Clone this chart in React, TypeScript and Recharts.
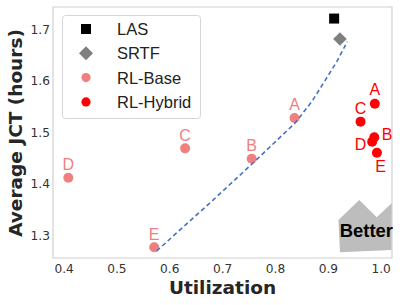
import React from 'react';
import { ScatterChart, Scatter, XAxis, YAxis, ReferenceArea, ReferenceDot, Legend, Label } from 'recharts';

// ---- data ----
const pointNames = ['A', 'B', 'C', 'D', 'E'];
const baseUtil = [0.836, 0.755, 0.629, 0.408, 0.5705];
const baseJct = [1.528, 1.449, 1.469, 1.412, 1.2775];
const hybridUtil = [0.988, 0.987, 0.961, 0.983, 0.992];
const hybridJct = [1.5555, 1.4906, 1.5208, 1.4817, 1.4605];
const lasUtil = [0.911];
const lasJct = [1.7206];
const srtfUtil = [0.922];
const srtfJct = [1.681];
const frontierUtil = [0.575, 0.68, 0.761, 0.837, 0.869, 0.8905, 0.916, 0.936];
const frontierJct = [1.27, 1.367, 1.444, 1.518, 1.56, 1.595, 1.637, 1.676];
const xTicks = [0.4, 0.5, 0.6, 0.7, 0.8, 0.9, 1.0];
const yTicks = [1.3, 1.4, 1.5, 1.6, 1.7];
const xDomain: [number, number] = [0.379, 1.0205];
const yDomain: [number, number] = [1.2565, 1.743];

const zip = (xs: number[], ys: number[], names?: string[]) =>
  xs.map((x, i) => ({ x, y: ys[i], name: names ? names[i] : '' }));

const baseData = zip(baseUtil, baseJct, pointNames);
const hybridData = zip(hybridUtil, hybridJct, pointNames);
const lasData = zip(lasUtil, lasJct);
const srtfData = zip(srtfUtil, srtfJct);
const frontierData = zip(frontierUtil, frontierJct);

// ---- styles ----
const BASE_COLOR = '#f08080';
const HYBRID_COLOR = '#ff0000';
const SRTF_COLOR = '#7f7f7f';
const LINE_COLOR = '#4472c4';
const LABEL_FONT = '"Liberation Sans", Arial, sans-serif';
const AXIS_FONT = '"DejaVu Sans", sans-serif';

const baseLabelOffset: Record<string, [number, number]> = {
  A: [0, -7.5], B: [0, -7.5], C: [0, -7.5], D: [0, -7.5], E: [0, -7.5],
};
const hybridLabelOffset: Record<string, [number, number]> = {
  A: [0, -9.2], B: [12.7, 2.8], C: [0, -7.8], D: [-11.6, 8.2], E: [3.7, 18.9],
};

const makeCircleShape = (color: string, offsets: Record<string, [number, number]>) => (props: any) => {
  const { cx, cy, payload } = props;
  const off = offsets[payload.name] || [0, -7.5];
  return (
    <g>
      <circle cx={cx} cy={cy} r={5} fill={color} />
      <text
        x={cx + off[0]}
        y={cy + off[1]}
        textAnchor="middle"
        fontFamily={LABEL_FONT}
        fontSize={16}
        fill={color}
      >
        {payload.name}
      </text>
    </g>
  );
};

const squareShape = (props: any) => {
  const { cx, cy } = props;
  return <rect x={cx - 5} y={cy - 5} width={10} height={10} fill="#000" />;
};

const diamondShape = (props: any) => {
  const { cx, cy } = props;
  const h = 6.8;
  return <polygon points={`${cx},${cy - h} ${cx + h},${cy} ${cx},${cy + h} ${cx - h},${cy}`} fill={SRTF_COLOR} />;
};

const nothingShape = () => <g />;

const betterShape = (props: any) => {
  const { cx, cy } = props;
  const pts = [
    [-21.9, -35.6], [-4.5, -18.3], [10.5, -32.3], [10.3, 14.4], [-41.2, 16.7], [-42.7, -15.6],
  ]
    .map(([dx, dy]) => `${cx + dx},${cy + dy}`)
    .join(' ');
  return (
    <g>
      <polygon points={pts} fill="#bdbdbd" />
      <text x={cx - 41.4} y={cy + 1.3} fontFamily={LABEL_FONT} fontWeight="bold" fontSize={18.4} fill="#000">
        Better
      </text>
    </g>
  );
};

const legendItems = [
  { label: 'LAS', kind: 'square', color: '#000' },
  { label: 'SRTF', kind: 'diamond', color: SRTF_COLOR },
  { label: 'RL-Base', kind: 'circle', color: BASE_COLOR },
  { label: 'RL-Hybrid', kind: 'circle', color: HYBRID_COLOR },
];

const renderLegend = () => (
  <svg width={140} height={105} style={{ display: 'block' }}>
    <rect x={0.5} y={0.5} width={138} height={103} rx={3} fill="#fff" fillOpacity={0.85} stroke="#d6d6d6" />
    {legendItems.map((it, i) => {
      const cy = 14 + i * 24.3;
      const cx = 24;
      let marker;
      if (it.kind === 'square') marker = <rect x={cx - 5} y={cy - 5} width={10} height={10} fill={it.color} />;
      else if (it.kind === 'diamond')
        marker = <polygon points={`${cx},${cy - 7} ${cx + 7},${cy} ${cx},${cy + 7} ${cx - 7},${cy}`} fill={it.color} />;
      else marker = <circle cx={cx} cy={cy} r={4.6} fill={it.color} />;
      return (
        <g key={it.label}>
          {marker}
          <text x={55} y={cy + 5.9} fontFamily={LABEL_FONT} fontSize={16.5} fill="#222">
            {it.label}
          </text>
        </g>
      );
    })}
  </svg>
);

const renderYTitle = () => (
  <text
    x={22}
    y={133}
    transform="rotate(-90, 22, 133)"
    textAnchor="middle"
    fontFamily={AXIS_FONT}
    fontWeight="bold"
    fontSize={18.5}
    fill="#262626"
  >
    Average JCT (hours)
  </text>
);

const renderXTitle = () => (
  <text x={222.5} y={294.3} textAnchor="middle" fontFamily={AXIS_FONT} fontWeight="bold" fontSize={18.5} fill="#262626">
    Utilization
  </text>
);

const tickStyle = { fontFamily: AXIS_FONT, fontSize: 12.2, fill: '#333' };

export default function App() {
  return (
    <div style={{ position: 'absolute', left: 0, top: 0, width: 407, height: 305, background: '#fff' }}>
      <ScatterChart width={407} height={305} margin={{ top: 7, right: 15, bottom: 0, left: 0 }}>
        <XAxis
          type="number"
          dataKey="x"
          domain={xDomain}
          ticks={xTicks}
          allowDataOverflow
          axisLine={false}
          tickLine={false}
          tickSize={0}
          tickMargin={6}
          height={47}
          tick={tickStyle}
          tickFormatter={(v: number) => v.toFixed(1)}
          interval={0}
        >
          <Label content={renderXTitle} />
        </XAxis>
        <YAxis
          type="number"
          dataKey="y"
          domain={yDomain}
          ticks={yTicks}
          allowDataOverflow
          axisLine={false}
          tickLine={false}
          tickSize={0}
          tickMargin={3}
          width={53}
          tick={tickStyle}
          tickFormatter={(v: number) => v.toFixed(1)}
          interval={0}
        >
          <Label content={renderYTitle} />
        </YAxis>
        <ReferenceArea
          x1={xDomain[0]}
          x2={xDomain[1]}
          y1={yDomain[0]}
          y2={yDomain[1]}
          fill="#fff"
          fillOpacity={0}
          stroke="#d0d0d0"
          strokeWidth={1.2}
        />
        <ReferenceDot x={1.0} y={1.3} r={0} shape={betterShape} />
        <Scatter name="RL-Base" data={baseData} shape={makeCircleShape(BASE_COLOR, baseLabelOffset)} isAnimationActive={false} />
        <Scatter
          name="frontier"
          data={frontierData}
          shape={nothingShape}
          line={{ stroke: LINE_COLOR, strokeWidth: 1.6, strokeDasharray: '4.5 3' }}
          lineType="joint"
          legendType="none"
          isAnimationActive={false}
        />
        <Scatter name="SRTF" data={srtfData} shape={diamondShape} isAnimationActive={false} />
        <Scatter name="LAS" data={lasData} shape={squareShape} isAnimationActive={false} />
        <Scatter name="RL-Hybrid" data={hybridData} shape={makeCircleShape(HYBRID_COLOR, hybridLabelOffset)} isAnimationActive={false} />
        <Legend
          layout="vertical"
          align="center"
          verticalAlign="middle"
          content={renderLegend}
          wrapperStyle={{ left: 62, top: 15, width: 140, height: 105 }}
        />
      </ScatterChart>
    </div>
  );
}
